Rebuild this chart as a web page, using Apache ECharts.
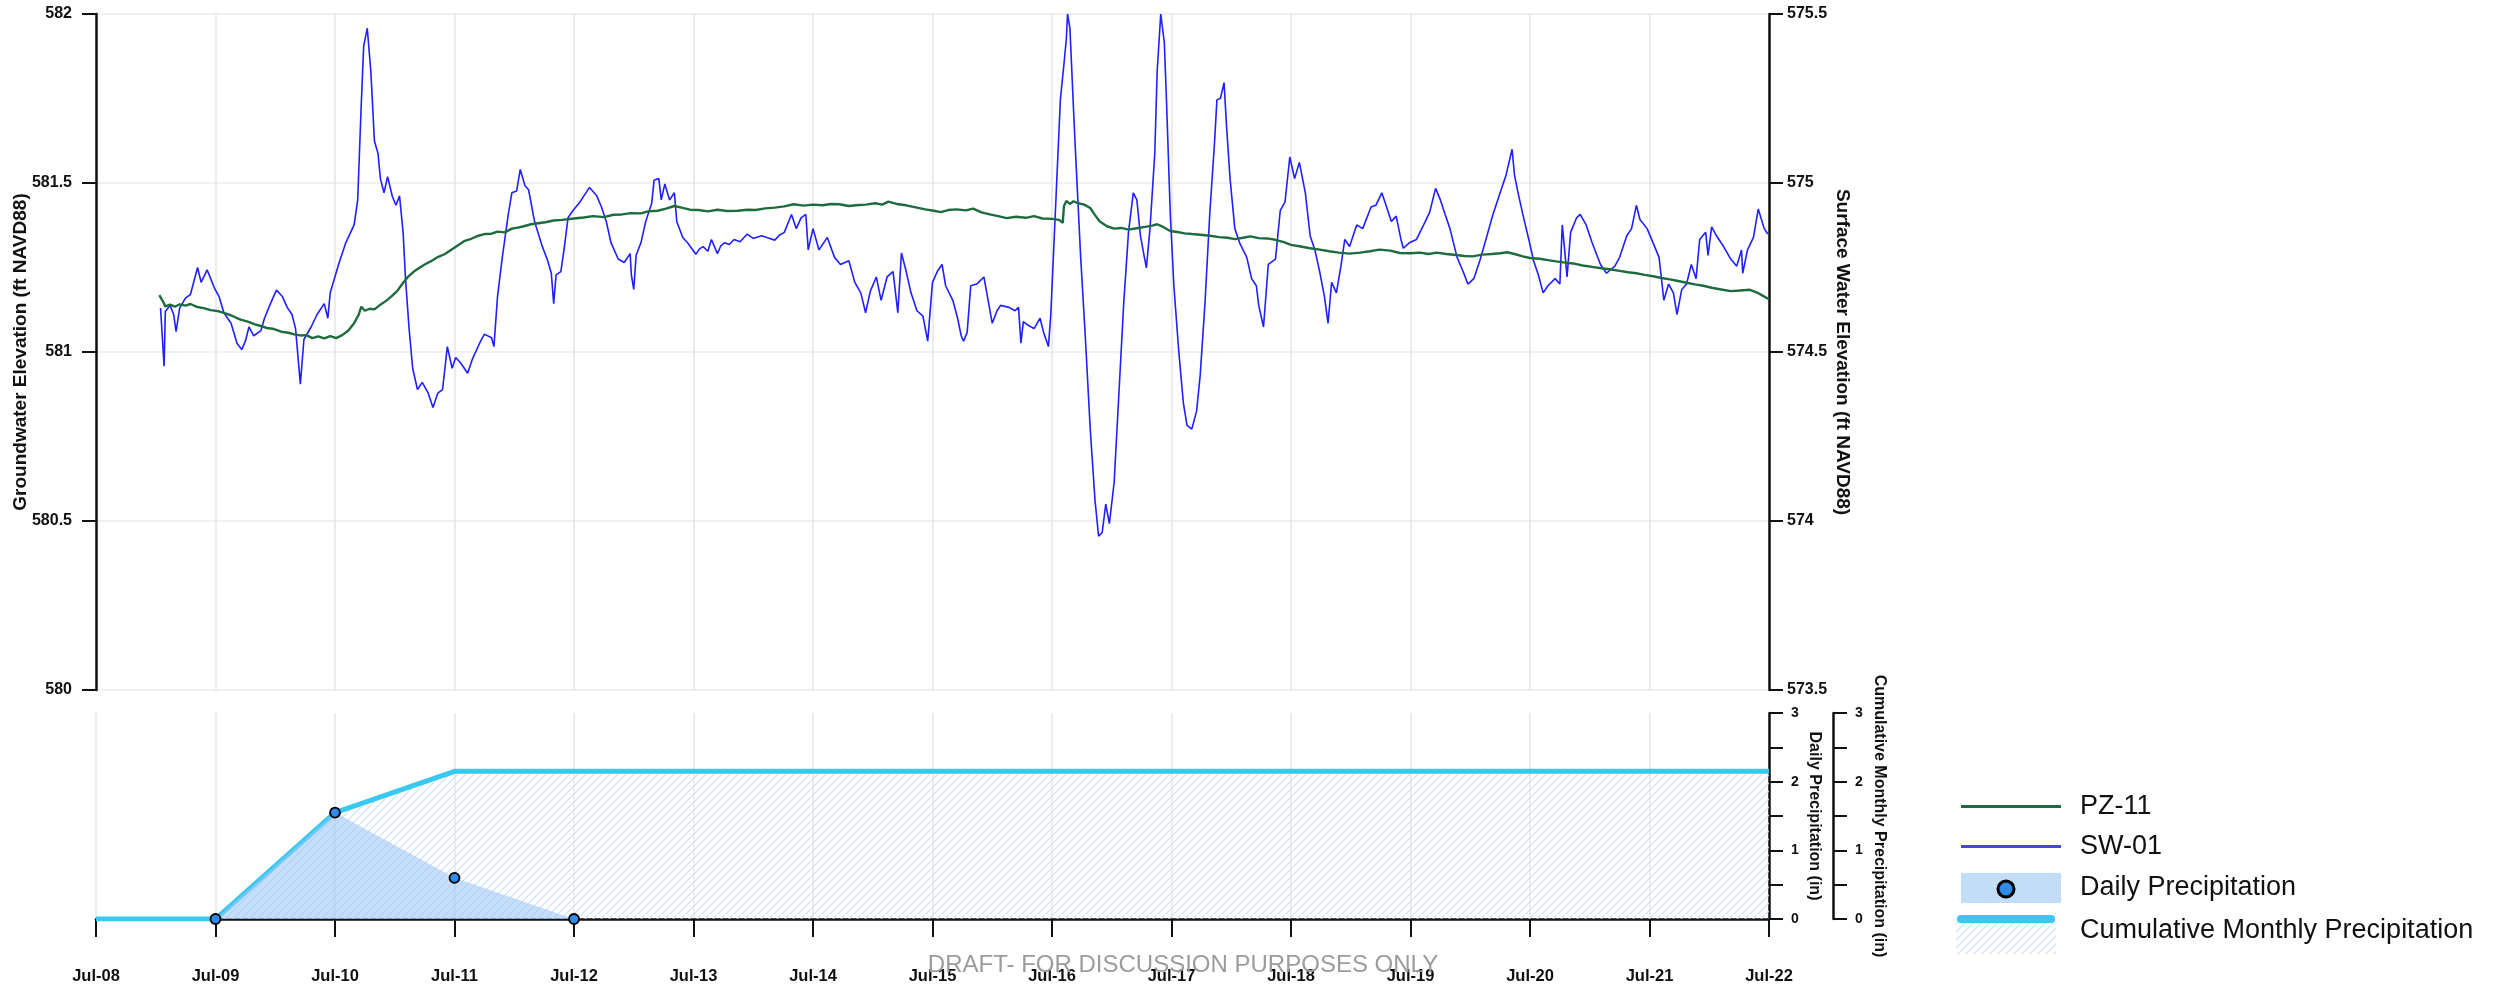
<!DOCTYPE html>
<html>
<head>
<meta charset="utf-8">
<title>PZ-11 / SW-01 elevations and precipitation</title>
<script src="https://cdn.jsdelivr.net/npm/echarts@6/dist/echarts.min.js"></script>
<style>
  html, body { margin: 0; padding: 0; background: #fff; }
  #chart { width: 2499px; height: 987px; }
</style>
</head>
<body>
<div id="chart"></div>
<script>
const FONT = "'Liberation Sans', Arial, sans-serif";
const GREEN = "#1d6b3f";
const BLUE = "#1f1fff";
const CYAN = "#38c8f0";

// x values are days of July (fractional)
const xMin = 8, xMax = 22;

// PZ-11 groundwater elevation (ft NAVD88), left axis
const pz11 = [
    [8.53,581.168],[8.56,581.150],[8.58,581.135],[8.62,581.140],[8.66,581.134],[8.70,581.141],[8.75,581.137],[8.79,581.142],
    [8.84,581.134],[8.90,581.130],[8.96,581.124],[9.02,581.121],[9.07,581.116],[9.12,581.110],[9.17,581.102],[9.21,581.096],
    [9.27,581.090],[9.33,581.082],[9.38,581.077],[9.43,581.071],[9.49,581.068],[9.55,581.060],[9.61,581.057],[9.66,581.052],
    [9.71,581.049],[9.76,581.050],[9.81,581.041],[9.86,581.046],[9.91,581.040],[9.96,581.047],[10.01,581.041],[10.06,581.050],
    [10.11,581.063],[10.16,581.085],[10.20,581.112],[10.22,581.134],[10.25,581.122],[10.29,581.128],[10.33,581.126],[10.38,581.140],
    [10.43,581.152],[10.47,581.164],[10.52,581.180],[10.57,581.205],[10.61,581.222],[10.66,581.238],[10.71,581.250],[10.75,581.259],
    [10.80,581.268],[10.86,581.281],[10.92,581.290],[10.97,581.302],[11.03,581.316],[11.08,581.328],[11.14,581.335],[11.20,581.344],
    [11.25,581.349],[11.31,581.350],[11.36,581.356],[11.42,581.354],[11.48,581.365],[11.53,581.368],[11.58,581.372],[11.64,581.378],
    [11.70,581.381],[11.76,581.384],[11.83,581.389],[11.90,581.391],[12.00,581.395],[12.08,581.398],[12.16,581.402],[12.25,581.399],
    [12.33,581.406],[12.40,581.407],[12.48,581.411],[12.56,581.410],[12.62,581.416],[12.70,581.418],[12.77,581.424],[12.84,581.432],
    [12.90,581.427],[12.97,581.421],[13.04,581.420],[13.12,581.416],[13.20,581.421],[13.28,581.417],[13.37,581.418],[13.45,581.421],
    [13.52,581.420],[13.60,581.425],[13.68,581.427],[13.76,581.431],[13.84,581.437],[13.92,581.433],[14.00,581.436],[14.08,581.434],
    [14.15,581.438],[14.22,581.437],[14.30,581.432],[14.36,581.434],[14.44,581.436],[14.52,581.440],[14.58,581.436],[14.63,581.445],
    [14.70,581.438],[14.78,581.434],[14.86,581.428],[14.94,581.422],[15.01,581.418],[15.07,581.414],[15.13,581.420],[15.20,581.422],
    [15.28,581.419],[15.34,581.424],[15.41,581.413],[15.48,581.407],[15.55,581.402],[15.62,581.396],[15.70,581.400],[15.78,581.397],
    [15.85,581.402],[15.92,581.395],[16.00,581.394],[16.06,581.391],[16.09,581.382],[16.10,581.432],[16.12,581.447],[16.15,581.438],
    [16.18,581.446],[16.22,581.440],[16.27,581.436],[16.32,581.426],[16.36,581.405],[16.40,581.386],[16.46,581.372],[16.52,581.365],
    [16.58,581.367],[16.64,581.362],[16.71,581.366],[16.78,581.370],[16.84,581.374],[16.88,581.378],[16.93,581.370],[16.99,581.358],
    [17.05,581.355],[17.11,581.351],[17.17,581.349],[17.24,581.347],[17.32,581.344],[17.40,581.340],[17.47,581.338],[17.53,581.334],
    [17.60,581.338],[17.66,581.342],[17.73,581.337],[17.80,581.336],[17.87,581.332],[17.94,581.325],[18.00,581.317],[18.08,581.312],
    [18.16,581.307],[18.24,581.303],[18.32,581.298],[18.40,581.294],[18.49,581.291],[18.58,581.294],[18.66,581.298],[18.74,581.303],
    [18.83,581.300],[18.91,581.293],[19.00,581.292],[19.08,581.294],[19.15,581.290],[19.22,581.294],[19.30,581.290],[19.38,581.287],
    [19.45,581.284],[19.52,581.283],[19.60,581.288],[19.68,581.290],[19.75,581.292],[19.81,581.295],[19.87,581.290],[19.94,581.283],
    [20.00,581.278],[20.08,581.276],[20.15,581.272],[20.22,581.268],[20.28,581.265],[20.36,581.262],[20.44,581.256],[20.52,581.252],
    [20.61,581.247],[20.68,581.244],[20.75,581.240],[20.82,581.236],[20.89,581.233],[20.96,581.228],[21.03,581.224],[21.10,581.219],
    [21.17,581.215],[21.24,581.210],[21.31,581.205],[21.38,581.200],[21.45,581.196],[21.52,581.190],[21.60,581.185],[21.68,581.180],
    [21.76,581.182],[21.84,581.184],[21.90,581.176],[21.95,581.166],[22.00,581.156]
];

// SW-01 surface water elevation (ft NAVD88), right axis
const sw01 = [
    [8.54,574.630],[8.57,574.458],[8.58,574.620],[8.62,574.638],[8.65,574.611],[8.67,574.560],[8.70,574.630],[8.75,574.660],
    [8.79,574.670],[8.85,574.750],[8.88,574.706],[8.93,574.743],[8.99,574.690],[9.03,574.664],[9.07,574.616],[9.13,574.585],
    [9.18,574.526],[9.22,574.507],[9.25,574.532],[9.28,574.574],[9.32,574.548],[9.38,574.563],[9.41,574.600],[9.46,574.643],
    [9.51,574.683],[9.56,574.664],[9.60,574.632],[9.64,574.611],[9.67,574.569],[9.71,574.405],[9.74,574.537],[9.80,574.574],
    [9.85,574.611],[9.91,574.643],[9.94,574.600],[9.96,574.675],[10.03,574.759],[10.09,574.823],[10.16,574.876],[10.19,574.950],
    [10.22,575.235],[10.24,575.405],[10.27,575.458],[10.30,575.330],[10.33,575.124],[10.36,575.087],[10.38,575.013],[10.41,574.971],
    [10.44,575.019],[10.48,574.960],[10.51,574.934],[10.54,574.962],[10.57,574.854],[10.59,574.717],[10.62,574.569],[10.65,574.452],
    [10.69,574.389],[10.73,574.410],[10.78,574.378],[10.82,574.336],[10.86,574.378],[10.90,574.389],[10.94,574.516],[10.98,574.452],
    [11.01,574.484],[11.05,574.468],[11.11,574.437],[11.15,574.479],[11.21,574.526],[11.25,574.553],[11.31,574.542],[11.33,574.516],
    [11.36,574.664],[11.40,574.780],[11.45,574.907],[11.48,574.971],[11.52,574.976],[11.55,575.040],[11.59,574.992],[11.62,574.980],
    [11.67,574.886],[11.73,574.817],[11.78,574.770],[11.81,574.733],[11.83,574.643],[11.85,574.728],[11.89,574.738],[11.92,574.812],
    [11.95,574.897],[11.99,574.918],[12.05,574.944],[12.13,574.987],[12.19,574.962],[12.23,574.929],[12.27,574.886],[12.31,574.823],
    [12.37,574.775],[12.42,574.765],[12.47,574.791],[12.48,574.728],[12.50,574.685],[12.52,574.786],[12.56,574.823],[12.60,574.886],
    [12.65,574.939],[12.67,575.008],[12.71,575.013],[12.73,574.950],[12.76,574.997],[12.80,574.950],[12.84,574.971],[12.86,574.886],
    [12.91,574.839],[12.95,574.823],[13.02,574.789],[13.05,574.805],[13.08,574.812],[13.12,574.798],[13.15,574.833],[13.20,574.791],
    [13.23,574.815],[13.26,574.823],[13.30,574.818],[13.34,574.833],[13.39,574.826],[13.45,574.849],[13.50,574.836],[13.57,574.844],
    [13.62,574.838],[13.68,574.831],[13.72,574.846],[13.76,574.854],[13.82,574.907],[13.86,574.865],[13.90,574.897],[13.94,574.907],
    [13.96,574.802],[14.00,574.865],[14.05,574.802],[14.12,574.839],[14.18,574.780],[14.23,574.759],[14.30,574.770],[14.35,574.706],
    [14.40,574.675],[14.44,574.616],[14.48,574.680],[14.53,574.722],[14.57,574.653],[14.62,574.722],[14.67,574.738],[14.71,574.616],
    [14.74,574.793],[14.78,574.738],[14.82,574.675],[14.87,574.622],[14.92,574.606],[14.96,574.532],[15.00,574.706],[15.04,574.738],
    [15.08,574.759],[15.11,574.696],[15.17,574.653],[15.21,574.600],[15.24,574.548],[15.26,574.532],[15.29,574.558],[15.32,574.696],
    [15.37,574.701],[15.43,574.722],[15.46,574.664],[15.50,574.585],[15.54,574.622],[15.57,574.638],[15.64,574.632],[15.69,574.622],
    [15.72,574.632],[15.74,574.526],[15.76,574.590],[15.80,574.579],[15.85,574.569],[15.90,574.600],[15.93,574.558],[15.97,574.516],
    [15.99,574.611],[16.03,574.929],[16.07,575.246],[16.10,575.352],[16.12,575.426],[16.13,575.500],[16.15,575.458],[16.19,575.140],
    [16.24,574.780],[16.28,574.537],[16.32,574.272],[16.36,574.061],[16.39,573.955],[16.42,573.966],[16.45,574.050],[16.48,573.992],
    [16.52,574.114],[16.56,574.378],[16.60,574.643],[16.64,574.854],[16.68,574.971],[16.71,574.950],[16.74,574.844],[16.77,574.786],
    [16.79,574.749],[16.82,574.865],[16.86,575.087],[16.88,575.330],[16.91,575.500],[16.94,575.415],[16.96,575.225],[16.99,574.907],
    [17.02,574.696],[17.06,574.505],[17.10,574.347],[17.13,574.283],[17.17,574.272],[17.21,574.325],[17.24,574.431],[17.28,574.643],
    [17.32,574.907],[17.36,575.119],[17.38,575.246],[17.41,575.251],[17.44,575.297],[17.46,575.172],[17.49,575.013],[17.53,574.865],
    [17.57,574.823],[17.63,574.780],[17.67,574.717],[17.71,574.696],[17.73,574.638],[17.77,574.574],[17.81,574.759],[17.87,574.775],
    [17.91,574.918],[17.95,574.944],[17.99,575.077],[18.03,575.013],[18.07,575.061],[18.12,574.971],[18.16,574.844],[18.20,574.802],
    [18.24,574.738],[18.28,574.664],[18.31,574.585],[18.34,574.706],[18.38,574.675],[18.42,574.759],[18.45,574.833],[18.49,574.812],
    [18.55,574.876],[18.60,574.865],[18.67,574.929],[18.71,574.934],[18.76,574.971],[18.80,574.929],[18.84,574.886],[18.88,574.902],
    [18.92,574.833],[18.94,574.807],[18.99,574.823],[19.05,574.833],[19.11,574.876],[19.16,574.913],[19.21,574.984],[19.25,574.950],
    [19.29,574.907],[19.33,574.865],[19.39,574.780],[19.44,574.738],[19.48,574.701],[19.53,574.717],[19.58,574.770],[19.64,574.844],
    [19.69,574.907],[19.75,574.971],[19.80,575.024],[19.85,575.100],[19.87,575.024],[19.90,574.971],[19.94,574.907],[19.99,574.833],
    [20.03,574.770],[20.07,574.728],[20.11,574.675],[20.15,574.696],[20.21,574.717],[20.25,574.701],[20.27,574.876],[20.29,574.802],
    [20.31,574.722],[20.34,574.854],[20.39,574.897],[20.42,574.907],[20.47,574.876],[20.52,574.823],[20.59,574.759],[20.64,574.733],
    [20.71,574.754],[20.75,574.780],[20.81,574.844],[20.85,574.865],[20.89,574.934],[20.92,574.892],[20.98,574.865],[21.03,574.823],
    [21.08,574.780],[21.10,574.717],[21.12,574.653],[21.16,574.701],[21.20,574.675],[21.23,574.611],[21.27,574.685],[21.31,574.701],
    [21.35,574.759],[21.39,574.717],[21.42,574.833],[21.47,574.854],[21.49,574.786],[21.52,574.870],[21.56,574.844],[21.62,574.812],
    [21.68,574.775],[21.73,574.754],[21.77,574.802],[21.78,574.733],[21.82,574.802],[21.87,574.839],[21.91,574.923],[21.96,574.865],
    [21.99,574.849]
];

// precipitation (in)
const dailyDays = [9, 10, 11, 12];
const dailyPrecip = [0, 1.55, 0.6, 0];
const cumDays = [8, 9, 10, 11, 12, 13, 14, 15, 16, 17, 18, 19, 20, 21, 22];
const cumPrecip = [0, 0, 1.55, 2.15, 2.15, 2.15, 2.15, 2.15, 2.15, 2.15, 2.15, 2.15, 2.15, 2.15, 2.15];

function hatchPattern() {
    const s = 8;
    const c = document.createElement("canvas");
    c.width = s; c.height = s;
    const g = c.getContext("2d");
    g.strokeStyle = "#cbe0f6";
    g.lineWidth = 1.2;
    g.beginPath();
    g.moveTo(0, s); g.lineTo(s, 0);
    g.moveTo(-1, 1); g.lineTo(1, -1);
    g.moveTo(s - 1, s + 1); g.lineTo(s + 1, s - 1);
    g.stroke();
    return { image: c, repeat: "repeat" };
}
const hatch = hatchPattern();

const pad2 = n => (n < 10 ? "0" : "") + n;
const bold = (size) => ({ fontFamily: FONT, fontWeight: "bold", fontSize: size, color: "#111" });

const chart = echarts.init(document.getElementById("chart"), null, { renderer: "canvas" });
chart.setOption({
    animation: false,
    backgroundColor: "#fff",
    grid: [
        { left: 96, right: 730, top: 14, height: 676, outerBoundsMode: "none" },
        { left: 96, right: 730, top: 713, height: 206, outerBoundsMode: "none" }
    ],
    xAxis: [
        {
            type: "value", gridIndex: 0, min: xMin, max: xMax, interval: 1,
            axisLine: { show: false }, axisTick: { show: false }, axisLabel: { show: false },
            splitLine: { show: true, lineStyle: { color: "#e6e6e6", width: 1.5 } }
        },
        {
            type: "value", gridIndex: 1, min: xMin, max: xMax, interval: 1,
            axisLine: { show: true, onZero: false, lineStyle: { color: "#111", width: 2.5 } },
            axisTick: { show: true, length: 18, lineStyle: { color: "#111", width: 2 } },
            axisLabel: Object.assign(bold(16.5), { margin: 49, formatter: v => "Jul-" + pad2(v), showMinLabel: true, showMaxLabel: true }),
            splitLine: { show: true, lineStyle: { color: "#e6e6e6", width: 1.5 } }
        }
    ],
    yAxis: [
        {
            type: "value", gridIndex: 0, position: "left", min: 580, max: 582, interval: 0.5,
            name: "Groundwater Elevation (ft NAVD88)", nameLocation: "middle", nameRotate: 90, nameGap: 66,
            nameMoveOverlap: false, nameTextStyle: bold(19),
            axisLine: { show: true, lineStyle: { color: "#111", width: 2.5 } },
            axisTick: { show: true, length: 14, lineStyle: { color: "#111", width: 2 } },
            axisLabel: Object.assign(bold(16), { margin: 24 }),
            splitLine: { show: true, lineStyle: { color: "#ececec", width: 1.5 } }
        },
        {
            type: "value", gridIndex: 0, position: "right", min: 573.5, max: 575.5, interval: 0.5,
            name: "Surface Water Elevation (ft NAVD88)", nameLocation: "middle", nameRotate: -90, nameGap: 64,
            nameMoveOverlap: false, nameTextStyle: bold(19),
            axisLine: { show: true, lineStyle: { color: "#111", width: 2.5 } },
            axisTick: { show: true, length: 14, lineStyle: { color: "#111", width: 2 } },
            axisLabel: Object.assign(bold(16), { margin: 18 }),
            splitLine: { show: false }
        },
        {
            type: "value", gridIndex: 1, position: "right", min: 0, max: 3, interval: 0.5,
            name: "Daily Precipitation (in)", nameLocation: "middle", nameRotate: -90, nameGap: 37,
            nameMoveOverlap: false, nameTextStyle: bold(16),
            axisLine: { show: true, lineStyle: { color: "#111", width: 2.5 } },
            axisTick: { show: true, length: 14, lineStyle: { color: "#111", width: 2 } },
            axisLabel: Object.assign(bold(14), { margin: 22, formatter: v => (Number.isInteger(v) ? String(v) : "") }),
            splitLine: { show: false }
        },
        {
            type: "value", gridIndex: 1, position: "right", offset: 64, min: 0, max: 3, interval: 0.5,
            name: "Cumulative Monthly Precipitation (in)", nameLocation: "middle", nameRotate: -90, nameGap: 38,
            nameMoveOverlap: false, nameTextStyle: bold(16),
            axisLine: { show: true, lineStyle: { color: "#111", width: 2.5 } },
            axisTick: { show: true, length: 14, lineStyle: { color: "#111", width: 2 } },
            axisLabel: Object.assign(bold(14), { margin: 22, formatter: v => (Number.isInteger(v) ? String(v) : "") }),
            splitLine: { show: false }
        }
    ],
    legend: {
        orient: "vertical", left: 1956, top: 788,
        itemWidth: 100, itemHeight: 30, itemGap: 13,
        textStyle: { fontFamily: FONT, fontSize: 27, color: "#111", padding: [0, 0, 0, 14] },
        data: [
            { name: "PZ-11", icon: "path://M0,0H100V3H0Z", itemStyle: { color: GREEN } },
            { name: "SW-01", icon: "path://M0,0H100V3H0Z", itemStyle: { color: "#4646d8" } },
            { name: "Daily Precipitation", icon: "rect", itemStyle: { color: "#c3dcf8", borderWidth: 0 } },
            { name: "Cumulative Monthly Precipitation", icon: "rect", itemStyle: { opacity: 0 } }
        ]
    },
    graphic: [
        { type: "circle", z: 100, shape: { cx: 2006, cy: 889, r: 8 }, style: { fill: "#2f8ae8", stroke: "#000", lineWidth: 3 } },
        { type: "rect", z: 99, shape: { x: 1956, y: 921, width: 100, height: 33 }, style: { fill: hatch } },
        { type: "line", z: 100, shape: { x1: 1961, y1: 919, x2: 2051, y2: 919 }, style: { stroke: CYAN, lineWidth: 8, lineCap: "round" } },
        {
            type: "text", z: 100, x: 1183, y: 965,
            style: { text: "DRAFT- FOR DISCUSSION PURPOSES ONLY", fill: "#9c9c9c", font: "24px " + FONT, align: "center", verticalAlign: "middle" }
        }
    ],
    series: [
        {
            name: "SW-01", type: "line", xAxisIndex: 0, yAxisIndex: 1, data: sw01,
            symbol: "none", showSymbol: false, silent: true, z: 2,
            lineStyle: { color: BLUE, width: 1.6 }, itemStyle: { color: BLUE }
        },
        {
            name: "PZ-11", type: "line", xAxisIndex: 0, yAxisIndex: 0, data: pz11,
            symbol: "none", showSymbol: false, silent: true, z: 3,
            lineStyle: { color: GREEN, width: 2.4 }, itemStyle: { color: GREEN }
        },
        {
            name: "Cumulative Monthly Precipitation", type: "line", xAxisIndex: 1, yAxisIndex: 3,
            data: cumDays.map((d, i) => [d, cumPrecip[i]]),
            symbol: "none", showSymbol: false, silent: true, z: 3,
            lineStyle: { color: CYAN, width: 5 }, itemStyle: { color: CYAN },
            areaStyle: { color: hatch, opacity: 1 }
        },
        {
            name: "Daily Precipitation", type: "line", xAxisIndex: 1, yAxisIndex: 2,
            data: dailyDays.map((d, i) => [d, dailyPrecip[i]]),
            symbol: "circle", symbolSize: 10, showSymbol: true, silent: true, z: 4,
            lineStyle: { width: 0, color: "rgba(0,0,0,0)" },
            itemStyle: { color: "#2f8ae8", borderColor: "#000", borderWidth: 1.8 },
            areaStyle: { color: "rgba(160,200,246,0.6)", opacity: 1 }
        }
    ]
});
</script>
</body>
</html>
